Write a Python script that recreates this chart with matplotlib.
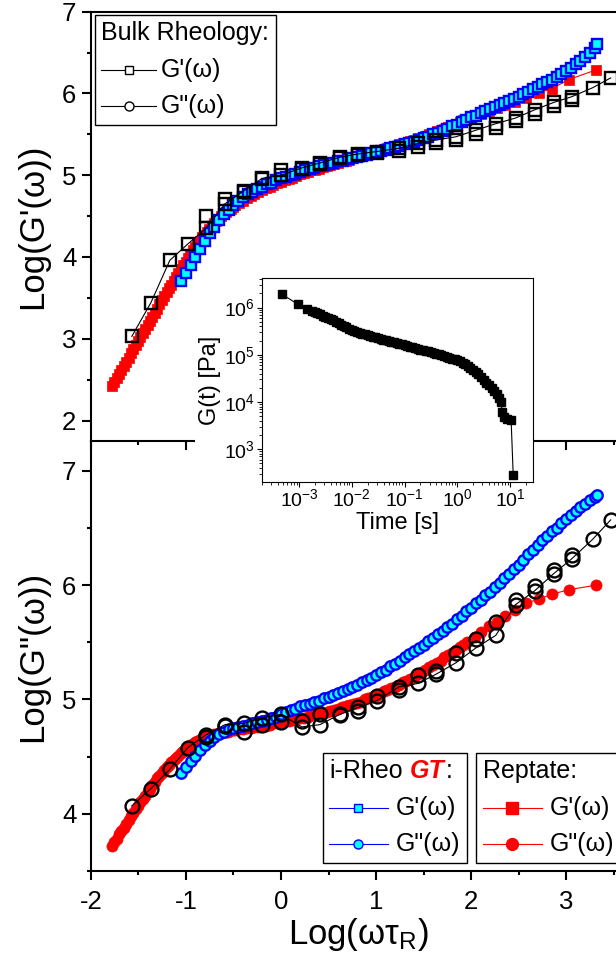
import numpy as np
import matplotlib
matplotlib.use('Agg')
import matplotlib.pyplot as plt
from matplotlib.ticker import MultipleLocator, LogLocator, NullFormatter
from matplotlib.patches import Rectangle
from matplotlib.lines import Line2D
from matplotlib.offsetbox import AnchoredOffsetbox, DrawingArea, HPacker, TextArea, VPacker

plt.rcParams['font.family'] = 'Liberation Sans'
plt.rcParams['mathtext.fontset'] = 'custom'
plt.rcParams['mathtext.rm'] = 'Liberation Sans'
plt.rcParams['mathtext.it'] = 'Liberation Sans:italic'
plt.rcParams['mathtext.bf'] = 'Liberation Sans:bold'
plt.rcParams['axes.unicode_minus'] = False

# ---- data: log(omega tau_R) and log moduli ----
# bulk rheology (two repeat runs)
bulk_x = [-1.57, -1.37, -1.17, -0.98, -0.79, -0.59, -0.39, -0.20, 0.00, 0.22, 0.41, 0.62, 0.81,
          1.01, 1.24, 1.44, 1.63, 1.84, 2.05, 2.26, 2.47, 2.67, 2.87, 3.06, 3.28, 3.47]
bulk_gp = [3.03, 3.44, 3.96, 4.16, 4.35, 4.65, 4.81, 4.96, 5.00, 5.09, 5.15, 5.22, 5.26,
           5.29, 5.33, 5.39, 5.43, 5.47, 5.55, 5.63, 5.70, 5.80, 5.89, 5.96, 6.07, 6.19]
bulk_gpp = [4.07, 4.22, 4.39, 4.58, 4.69, 4.78, 4.79, 4.84, 4.87, 4.76, 4.78, 4.87, 4.93,
            4.99, 5.11, 5.14, 5.22, 5.32, 5.45, 5.56, 5.83, 5.95, 6.10, 6.23, 6.40, 6.57]
bulk_x2 = [-0.79, -0.59, -0.39, -0.20, 0.00, 0.22, 0.41, 0.62, 0.81, 1.01,
           1.24, 1.44, 1.63, 1.84, 2.05, 2.26, 2.47, 2.67, 2.87, 3.06]
bulk_gp2 = [4.50, 4.71, 4.80, 4.95, 5.06, 5.08, 5.14, 5.21, 5.25, 5.27,
            5.30, 5.35, 5.39, 5.43, 5.51, 5.58, 5.66, 5.75, 5.85, 5.92]
bulk_gpp2 = [4.67, 4.77, 4.72, 4.78, 4.80, 4.81, 4.87, 4.86, 4.90, 5.03,
             5.08, 5.21, 5.25, 5.41, 5.53, 5.68, 5.87, 5.99, 6.13, 6.26]

# i-Rheo GT
irheo_x = [-1.05, -1.00, -0.95, -0.90, -0.85, -0.80, -0.75, -0.70, -0.65, -0.60,
           -0.55, -0.50, -0.45, -0.40, -0.35, -0.30, -0.25, -0.20, -0.15, -0.10,
           -0.05, 0.00, 0.05, 0.10, 0.15, 0.20, 0.25, 0.30, 0.35, 0.40,
           0.45, 0.50, 0.55, 0.60, 0.65, 0.70, 0.75, 0.80, 0.85, 0.90,
           0.95, 1.00, 1.05, 1.10, 1.15, 1.20, 1.25, 1.30, 1.35, 1.40,
           1.45, 1.50, 1.55, 1.60, 1.65, 1.70, 1.75, 1.80, 1.85, 1.90,
           1.95, 2.00, 2.05, 2.10, 2.15, 2.20, 2.25, 2.30, 2.35, 2.40,
           2.45, 2.50, 2.55, 2.60, 2.65, 2.70, 2.75, 2.80, 2.85, 2.90,
           2.95, 3.00, 3.05, 3.10, 3.15, 3.20, 3.25, 3.30, 3.33]
irheo_gp = [3.71, 3.80, 3.90, 4.00, 4.10, 4.20, 4.29, 4.37, 4.45, 4.52,
            4.58, 4.64, 4.69, 4.73, 4.77, 4.80, 4.83, 4.86, 4.89, 4.91,
            4.94, 4.96, 4.98, 5.00, 5.02, 5.04, 5.06, 5.08, 5.09, 5.11,
            5.12, 5.14, 5.15, 5.17, 5.18, 5.20, 5.21, 5.22, 5.24, 5.25,
            5.27, 5.28, 5.30, 5.31, 5.33, 5.34, 5.36, 5.38, 5.40, 5.41,
            5.43, 5.45, 5.47, 5.50, 5.52, 5.54, 5.57, 5.60, 5.62, 5.65,
            5.68, 5.71, 5.73, 5.76, 5.78, 5.81, 5.83, 5.86, 5.88, 5.91,
            5.93, 5.96, 5.99, 6.02, 6.05, 6.08, 6.11, 6.14, 6.17, 6.20,
            6.24, 6.27, 6.31, 6.36, 6.40, 6.45, 6.50, 6.56, 6.60]
irheo_gpp = [4.36, 4.41, 4.46, 4.51, 4.56, 4.60, 4.64, 4.67, 4.70, 4.72,
             4.74, 4.75, 4.76, 4.77, 4.78, 4.79, 4.80, 4.81, 4.82, 4.84,
             4.85, 4.87, 4.89, 4.91, 4.92, 4.94, 4.95, 4.96, 4.98, 4.99,
             5.01, 5.02, 5.04, 5.06, 5.07, 5.09, 5.11, 5.13, 5.15, 5.17,
             5.19, 5.21, 5.24, 5.26, 5.29, 5.31, 5.34, 5.37, 5.40, 5.42,
             5.45, 5.48, 5.51, 5.54, 5.57, 5.60, 5.63, 5.66, 5.70, 5.73,
             5.77, 5.80, 5.84, 5.87, 5.91, 5.94, 5.98, 6.02, 6.06, 6.10,
             6.14, 6.18, 6.22, 6.27, 6.31, 6.35, 6.39, 6.43, 6.47, 6.50,
             6.54, 6.58, 6.61, 6.65, 6.68, 6.71, 6.74, 6.77, 6.79]

# Reptate
rep_x = [-1.780, -1.755, -1.730, -1.705, -1.680, -1.655, -1.630, -1.605, -1.580, -1.555,
         -1.530, -1.505, -1.480, -1.455, -1.430, -1.405, -1.380, -1.355, -1.330, -1.305,
         -1.280, -1.255, -1.230, -1.205, -1.180, -1.155, -1.130, -1.105, -1.080, -1.055,
         -1.030, -1.005, -0.980, -0.955, -0.930, -0.905, -0.880, -0.855, -0.830, -0.805,
         -0.780, -0.755, -0.730, -0.705, -0.680, -0.655, -0.630, -0.605, -0.580, -0.555,
         -0.530, -0.505, -0.480,
         -0.44, -0.40, -0.36, -0.32, -0.28, -0.24, -0.20, -0.16, -0.12, -0.08,
         -0.04, 0.00, 0.04, 0.08, 0.12, 0.16, 0.20, 0.24, 0.28, 0.32,
         0.36, 0.40, 0.44, 0.48, 0.52, 0.56, 0.60, 0.64, 0.68, 0.72,
         0.76, 0.80, 0.84, 0.88, 0.92, 0.96, 1.00, 1.04, 1.08, 1.12,
         1.16, 1.20, 1.24, 1.28, 1.32, 1.36, 1.40, 1.44, 1.48, 1.52,
         1.56, 1.60, 1.64, 1.68, 1.72, 1.76, 1.80, 1.84, 1.88, 1.92, 1.96,
         2.04, 2.11, 2.19, 2.27, 2.36, 2.46, 2.58, 2.72, 2.85, 3.03, 3.32]
rep_gp = [2.42, 2.47, 2.52, 2.57, 2.62, 2.67, 2.72, 2.77, 2.82, 2.87,
          2.92, 2.97, 3.02, 3.07, 3.12, 3.17, 3.22, 3.27, 3.32, 3.37,
          3.42, 3.47, 3.52, 3.57, 3.62, 3.66, 3.71, 3.76, 3.81, 3.85,
          3.90, 3.94, 3.99, 4.03, 4.08, 4.12, 4.16, 4.20, 4.24, 4.27,
          4.31, 4.34, 4.38, 4.41, 4.44, 4.47, 4.50, 4.52, 4.55, 4.57,
          4.59, 4.61, 4.63,
          4.66, 4.69, 4.72, 4.75, 4.77, 4.79, 4.82, 4.84, 4.86, 4.88,
          4.90, 4.92, 4.94, 4.95, 4.97, 4.99, 5.01, 5.03, 5.04, 5.06,
          5.07, 5.08, 5.10, 5.11, 5.13, 5.14, 5.15, 5.17, 5.18, 5.19,
          5.21, 5.22, 5.24, 5.25, 5.26, 5.28, 5.29, 5.31, 5.32, 5.33,
          5.35, 5.36, 5.38, 5.39, 5.40, 5.42, 5.43, 5.45, 5.46, 5.48,
          5.50, 5.52, 5.54, 5.55, 5.57, 5.59, 5.61, 5.63, 5.65, 5.67, 5.69,
          5.72, 5.75, 5.78, 5.82, 5.86, 5.90, 5.95, 6.01, 6.06, 6.17, 6.29]
rep_gpp = [3.72, 3.75, 3.78, 3.82, 3.85, 3.88, 3.91, 3.95, 3.98, 4.01,
           4.04, 4.07, 4.10, 4.13, 4.16, 4.19, 4.22, 4.25, 4.28, 4.31,
           4.33, 4.36, 4.38, 4.41, 4.43, 4.45, 4.47, 4.49, 4.51, 4.53,
           4.55, 4.57, 4.58, 4.60, 4.61, 4.63, 4.64, 4.65, 4.66, 4.67,
           4.68, 4.69, 4.69, 4.70, 4.70, 4.71, 4.71, 4.72, 4.72, 4.72,
           4.73, 4.73, 4.73,
           4.74, 4.74, 4.75, 4.75, 4.76, 4.76, 4.77, 4.77, 4.78, 4.79,
           4.79, 4.80, 4.81, 4.81, 4.82, 4.83, 4.84, 4.84, 4.85, 4.86,
           4.87, 4.88, 4.88, 4.89, 4.90, 4.91, 4.92, 4.93, 4.94, 4.95,
           4.96, 4.97, 4.98, 5.00, 5.01, 5.02, 5.03, 5.05, 5.07, 5.08,
           5.10, 5.11, 5.13, 5.15, 5.16, 5.18, 5.20, 5.22, 5.24, 5.26,
           5.28, 5.30, 5.32, 5.34, 5.37, 5.39, 5.41, 5.43, 5.46, 5.48, 5.50,
           5.55, 5.59, 5.64, 5.68, 5.73, 5.78, 5.84, 5.88, 5.92, 5.96, 6.00]

# inset: stress relaxation modulus, log10 values
inset_logt = [-3.32, -3.02, -2.84, -2.75, -2.70, -2.65, -2.60, -2.55, -2.50, -2.45,
              -2.40, -2.35, -2.30, -2.25, -2.20, -2.15, -2.10, -2.05, -2.00, -1.95,
              -1.90, -1.85, -1.80, -1.75, -1.70, -1.65, -1.60, -1.55, -1.50, -1.45,
              -1.40, -1.35, -1.30, -1.25, -1.20, -1.15, -1.10, -1.05, -1.00, -0.95,
              -0.90, -0.85, -0.80, -0.75, -0.70, -0.65, -0.60, -0.55, -0.50, -0.45,
              -0.40, -0.35, -0.30, -0.25, -0.20, -0.15, -0.10, -0.05, 0.00, 0.05,
              0.10, 0.15, 0.20, 0.25, 0.30, 0.35, 0.40, 0.45, 0.50, 0.55,
              0.60, 0.65, 0.70, 0.75, 0.80, 0.83, 0.85, 0.88, 0.94, 1.02, 1.06]
inset_logG = [6.28, 6.07, 5.97, 5.93, 5.91, 5.88, 5.86, 5.83, 5.81, 5.78,
              5.76, 5.73, 5.70, 5.67, 5.64, 5.61, 5.58, 5.55, 5.53, 5.51,
              5.49, 5.47, 5.45, 5.43, 5.41, 5.40, 5.38, 5.37, 5.35, 5.34,
              5.32, 5.31, 5.29, 5.28, 5.26, 5.25, 5.23, 5.22, 5.20, 5.19,
              5.17, 5.16, 5.14, 5.13, 5.11, 5.10, 5.08, 5.07, 5.05, 5.04,
              5.02, 5.01, 4.99, 4.98, 4.96, 4.94, 4.92, 4.90, 4.88, 4.86,
              4.83, 4.80, 4.76, 4.72, 4.68, 4.64, 4.59, 4.53, 4.47, 4.41,
              4.35, 4.29, 4.23, 4.17, 4.08, 4.00, 3.78, 3.68, 3.63, 3.62, 2.45]

blue = '#0000FF'
cyan = '#00FFFF'
red = '#FF0000'


def legend_box(ax, title, rows, anchor, loc, handle_w, gap):
    items = [title]
    for line_color, mk, ms, mfc, mec, label in rows:
        da = DrawingArea(handle_w, 14, 0, 0)
        da.add_artist(Line2D([0, handle_w], [7, 7], color=line_color, lw=0.8))
        da.add_artist(Line2D([handle_w / 2], [7], ls='none', marker=mk, ms=ms,
                             mfc=mfc, mec=mec, mew=1.0))
        items.append(HPacker(children=[da, TextArea(label, textprops=dict(size=18))],
                             sep=gap, align='center', pad=0))
    box = VPacker(children=items, sep=9, align='left', pad=0)
    ab = AnchoredOffsetbox(loc=loc, child=box, pad=0.25, borderpad=0, frameon=True,
                           bbox_to_anchor=anchor, bbox_transform=ax.transAxes,
                           prop=dict(size=18))
    ab.patch.set_linewidth(1.0)
    ax.add_artist(ab)


fig = plt.figure(figsize=(6.16, 9.66), dpi=100)
ax1 = fig.add_axes([0.1477, 0.5435, 0.8523, 0.4444])
ax2 = fig.add_axes([0.1477, 0.0983, 0.8523, 0.4452])
ax2.patch.set_visible(False)

# top: storage modulus
ax1.plot(rep_x, rep_gp, '-s', color=red, lw=0.8, ms=7.5, mfc=red, mec=red, mew=0.5)
ax1.plot(irheo_x, irheo_gp, '-s', color=blue, lw=0.8, ms=6.5, mfc=cyan, mec=blue, mew=1.7)
ax1.plot(bulk_x, bulk_gp, '-s', color='black', lw=0.8, ms=9, mfc='none', mec='black', mew=1.7)
ax1.plot(bulk_x2, bulk_gp2, 's', ms=9, mfc='none', mec='black', mew=1.7)

# bottom: loss modulus
ax2.plot(rep_x, rep_gpp, '-o', color=red, lw=0.8, ms=8, mfc=red, mec=red, mew=0.5)
ax2.plot(irheo_x, irheo_gpp, '-o', color=blue, lw=0.8, ms=7.5, mfc=cyan, mec=blue, mew=1.7)
ax2.plot(bulk_x, bulk_gpp, '-o', color='black', lw=0.8, ms=10, mfc='none', mec='black', mew=1.7)
ax2.plot(bulk_x2, bulk_gpp2, 'o', ms=10, mfc='none', mec='black', mew=1.7)

for ax in (ax1, ax2):
    ax.set_xlim(-2, 3.526)
    ax.xaxis.set_major_locator(MultipleLocator(1))
    ax.xaxis.set_minor_locator(MultipleLocator(0.5))
    ax.yaxis.set_major_locator(MultipleLocator(1))
    ax.yaxis.set_minor_locator(MultipleLocator(0.5))
    ax.tick_params(which='major', direction='out', length=6.5, width=1.5, labelsize=18.5)
    ax.tick_params(which='minor', direction='out', length=3, width=1.5)
    ax.tick_params(axis='x', pad=7)
    ax.tick_params(axis='y', pad=4)
    ax.spines['right'].set_visible(False)
    for s in ax.spines.values():
        s.set_linewidth(1.5)

ax1.set_ylim(1.75, 7.0)
ax1.tick_params(axis='x', labelbottom=False)
ax2.set_ylim(3.50, 7.26)
ax2.spines['top'].set_visible(False)

ax1.set_ylabel("Log(G'(ω))", fontsize=25)
ax1.yaxis.set_label_coords(-0.08, 0.5)
ax2.set_ylabel('Log(G"(ω))', fontsize=25)
ax2.yaxis.set_label_coords(-0.08, 0.5)
ax2.set_xlabel(r'Log(ωτ$_\mathregular{R}$)', fontsize=25)
ax2.xaxis.set_label_coords(0.51, -0.105)

# legends
legend_box(ax1, TextArea('Bulk Rheology:', textprops=dict(size=18)),
           [('black', 's', 6, 'white', 'black', "G'(ω)"),
            ('black', 'o', 6.5, 'white', 'black', 'G"(ω)')],
           (0.008, 0.992), 'upper left', 39, 4)

irheo_title = HPacker(children=[
    TextArea('i-Rheo', textprops=dict(size=18)),
    HPacker(children=[TextArea('GT', textprops=dict(size=18, color=red, weight='bold', style='italic')),
                      TextArea(':', textprops=dict(size=18))], sep=1, align='baseline', pad=0)],
    sep=5, align='baseline', pad=0)
legend_box(ax2, irheo_title,
           [(blue, 's', 6, cyan, blue, "G'(ω)"),
            (blue, 'o', 6.5, cyan, blue, 'G"(ω)')],
           (0.442, 0.0198), 'lower left', 42, 6)
legend_box(ax2, TextArea('Reptate:', textprops=dict(size=18)),
           [(red, 's', 8.5, red, red, "G'(ω)"),
            (red, 'o', 8.5, red, red, 'G"(ω)')],
           (0.734, 0.0198), 'lower left', 43, 5)

# white backing behind the inset
fig.add_artist(Rectangle((0.3166, 0.441), 0.5492, 0.2755, transform=fig.transFigure,
                         facecolor='white', edgecolor='none', zorder=2))

axin = fig.add_axes([0.4248, 0.5013, 0.4409, 0.2106])
axin.set_zorder(3)
axin.plot(10 ** np.array(inset_logt), 10 ** np.array(inset_logG), '-s', color='black',
          lw=0.8, ms=6)
axin.set_xscale('log')
axin.set_yscale('log')
axin.set_xlim(10 ** -3.707, 10 ** 1.44)
axin.set_ylim(10 ** 2.31, 10 ** 6.62)
for a in (axin.xaxis, axin.yaxis):
    a.set_major_locator(LogLocator(base=10, numticks=50))
    a.set_minor_locator(LogLocator(base=10, subs=(2, 3, 4, 5, 6, 7, 8, 9), numticks=50))
    a.set_minor_formatter(NullFormatter())
axin.tick_params(which='major', direction='out', length=3.5, width=0.8, labelsize=14, pad=1.5)
axin.tick_params(which='minor', direction='out', length=2, width=0.6)
for s in axin.spines.values():
    s.set_linewidth(0.8)
axin.set_xlabel('Time [s]', fontsize=17, labelpad=1)
axin.set_ylabel('G(t) [Pa]', fontsize=17, labelpad=2)

fig.savefig('out.png', dpi=100)
